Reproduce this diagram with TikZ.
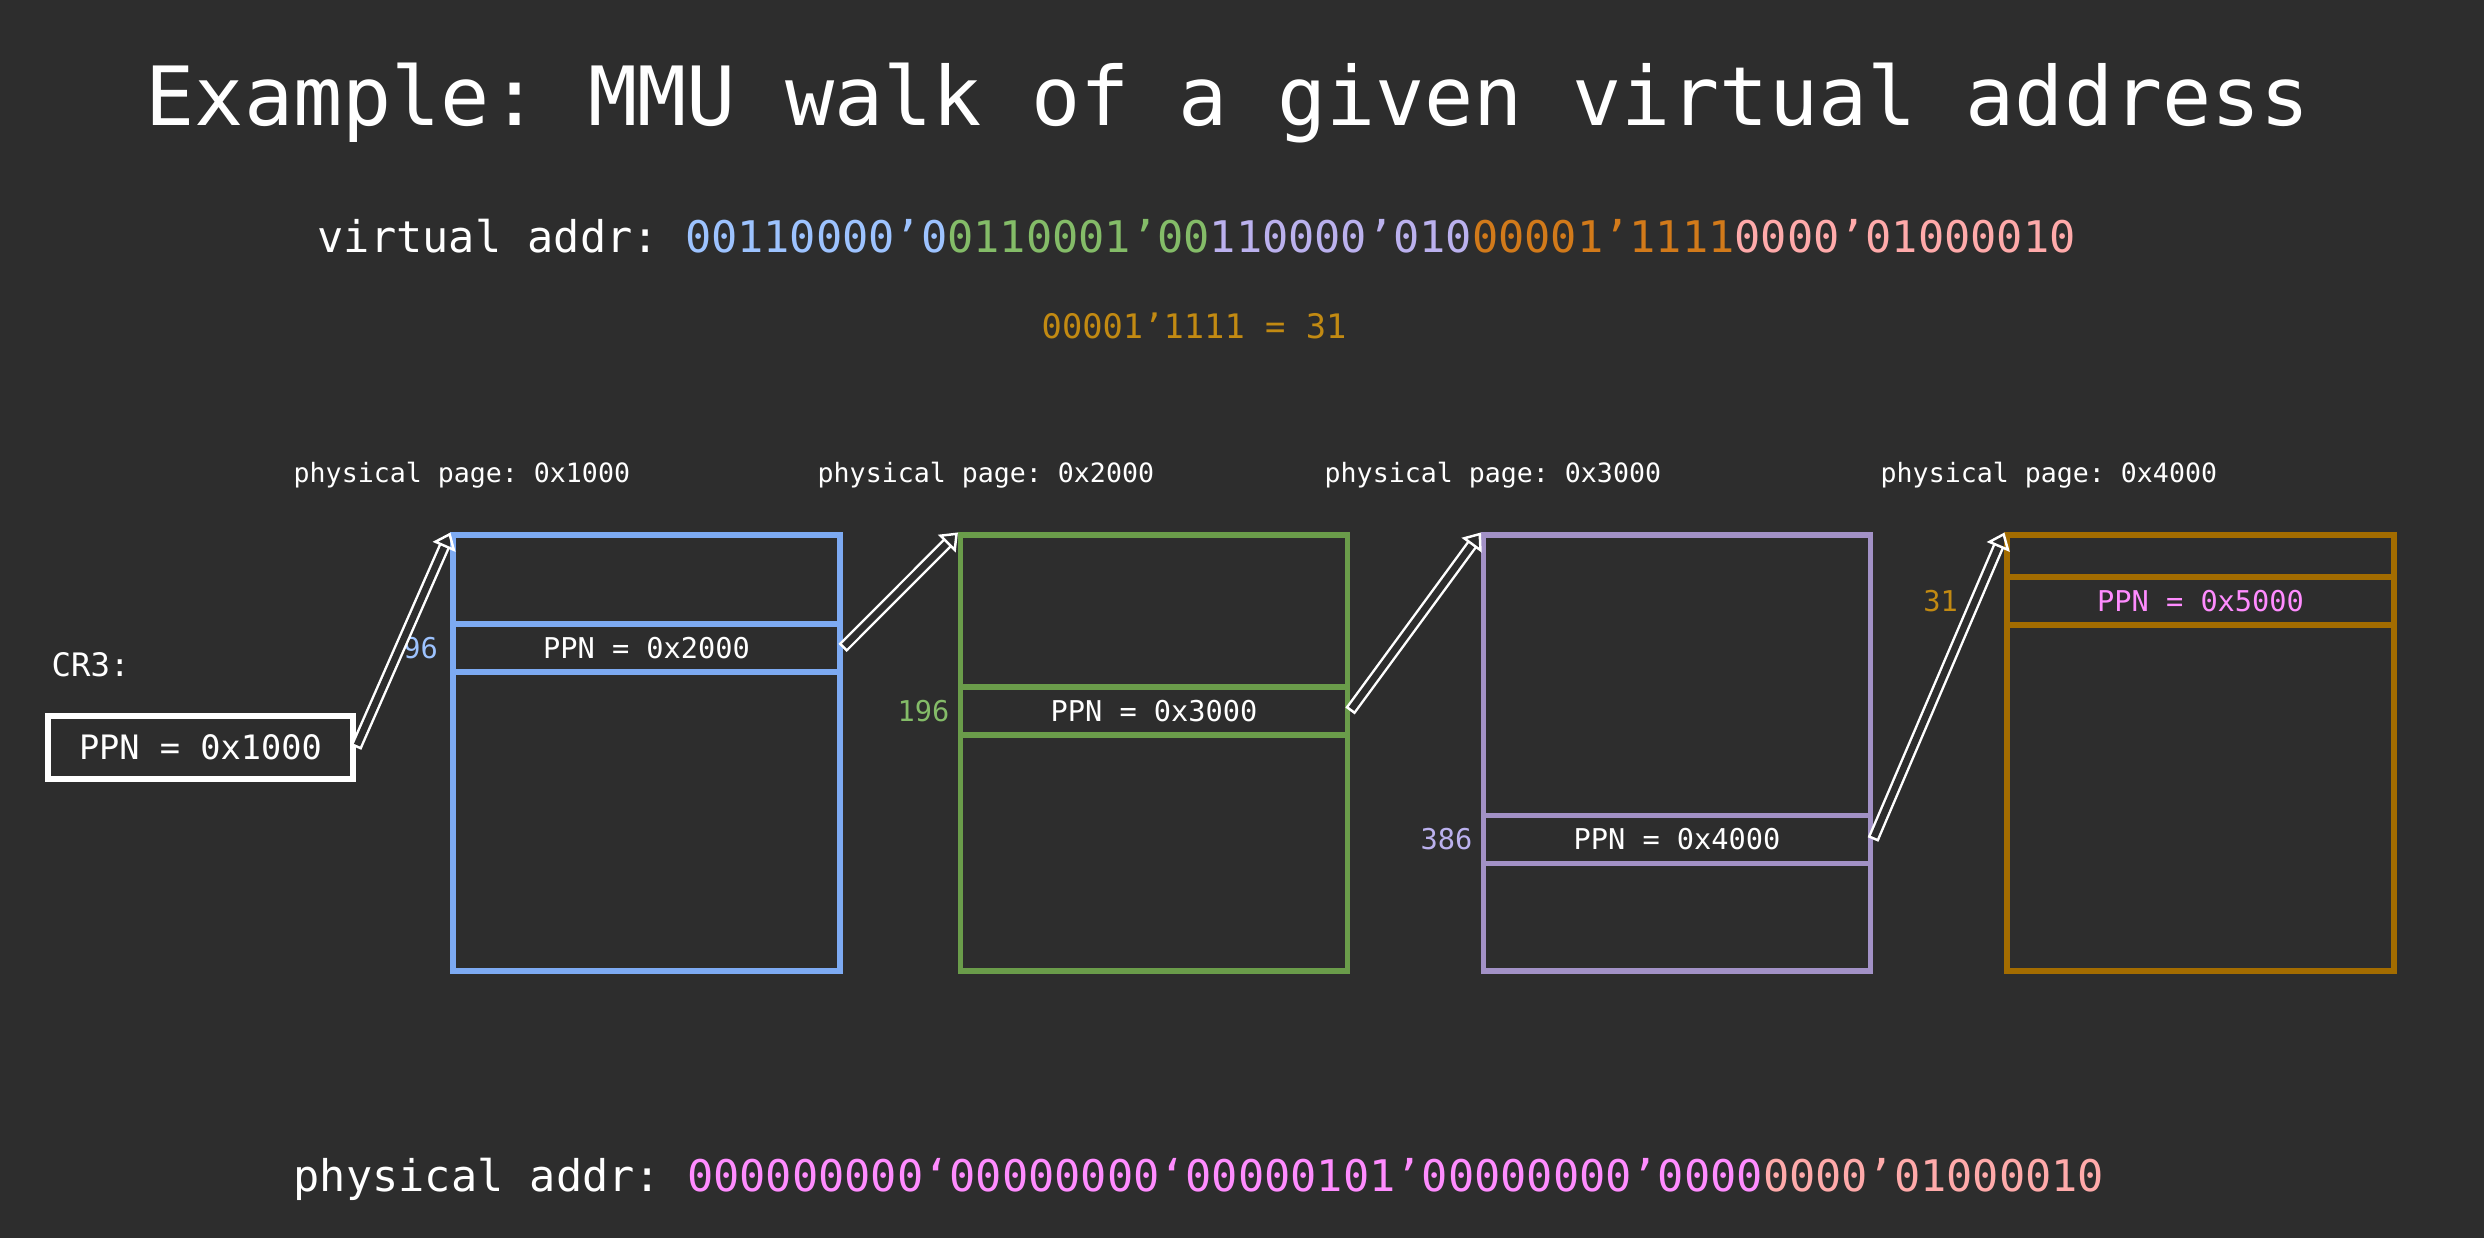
\documentclass[tikz,border=0pt]{standalone}
\usepackage{fontspec}
\usetikzlibrary{arrows.meta,positioning}
\newfontfamily\codefont{DejaVu Sans Mono}
\frenchspacing
\definecolor{bg}{HTML}{2D2D2D}
\definecolor{b1}{HTML}{7DAAF2}
\definecolor{g1}{HTML}{6A9C4A}
\definecolor{p1}{HTML}{A291C6}
\definecolor{o1}{HTML}{A36C00}
\definecolor{b2}{HTML}{9DC3FF}
\definecolor{g2}{HTML}{84BC68}
\definecolor{p2}{HTML}{BBB1EE}
\definecolor{o2}{HTML}{D27A1A}
\definecolor{y2}{HTML}{C28A12}
\definecolor{pk}{HTML}{FF8CFF}
\definecolor{sa}{HTML}{FFAAAA}
\newcommand\fsize[1]{\codefont\fontsize{#1}{#1}\selectfont}
\tikzstyle{ptable}=[draw,line width=1.45pt,minimum width=3.87cm,minimum height=4.36cm,inner sep=0pt]
\tikzstyle{pte}=[draw,line width=1.45pt,minimum width=3.87cm,minimum height=0.48cm,inner sep=0pt,text=white,font=\fsize{8.15pt}]
\tikzstyle{idx}=[inner sep=0pt,font=\fsize{8.15pt}]
\tikzstyle{pagelabel}=[anchor=base west,inner sep=0pt,text=white,font=\fsize{7.57pt}]
\tikzstyle{ptr}=[white,line width=0.7pt,double=bg,double distance=1.9pt,
  {Bar[width=3.3pt,line width=0.7pt]}-{Triangle[open,length=4.5pt,width=7pt,line width=0.7pt]}]

\begin{document}
\begin{tikzpicture}
  \fill[bg] (0,0) rectangle (24.84,12.38);
  \node[anchor=base,inner sep=0pt,text=white,font=\fsize{23.25pt}] (title) at (12.28,11.12)
    {Example: MMU walk of a given virtual address};
  \node[anchor=base west,inner sep=0pt,text=white,font=\fsize{12.4pt}] (vaddr) at (3.17,9.85)
    {virtual addr: \textcolor{b2}{00110000’0}\textcolor{g2}{0110001’00}\textcolor{p2}{110000’010}\textcolor{o2}{00001’1111}\textcolor{sa}{0000’01000010}};
  \node[anchor=base west,inner sep=0pt,text=y2,font=\fsize{9.6pt}] (calc) at (10.41,8.99) {00001’1111 = 31};

  % page tables
  \node[ptable,draw=b1] (t1) at (6.465,4.85) {};
  \node[ptable,draw=g1] (t2) at (11.54,4.85) {};
  \node[ptable,draw=p1] (t3) at (16.77,4.85) {};
  \node[ptable,draw=o1] (t4) at (22.005,4.85) {};
  \node[pte,draw=b1] (e1) at (6.465,5.90) {PPN = 0x2000};
  \node[pte,draw=g1] (e2) at (11.54,5.27) {PPN = 0x3000};
  \node[pte,draw=p1] (e3) at (16.77,3.985) {PPN = 0x4000};
  \node[pte,draw=o1,text=pk] (e4) at (22.005,6.37) {PPN = 0x5000};
  \node[idx,text=b2,left=0.12cm of e1.west] (i1) {96};
  \node[idx,text=g2,left=0.08cm of e2.west] (i2) {196};
  \node[idx,text=p2,left=0.08cm of e3.west] (i3) {386};
  \node[idx,text=y2,left=0.46cm of e4.west] (i4) {31};
  \node[pagelabel] (l1) at (2.93,7.55) {physical page: 0x1000};
  \node[pagelabel] (l2) at (8.17,7.55) {physical page: 0x2000};
  \node[pagelabel] (l3) at (13.24,7.55) {physical page: 0x3000};
  \node[pagelabel] (l4) at (18.80,7.55) {physical page: 0x4000};

  % CR3 register
  \node[anchor=base west,inner sep=0pt,text=white,font=\fsize{9.2pt}] (crlabel) at (0.51,5.61) {CR3:};
  \node[draw=white,line width=1.7pt,minimum width=3.05cm,minimum height=0.63cm,inner sep=0pt,
    text=white,font=\fsize{9.57pt}] (cr3) at (2.005,4.905) {PPN = 0x1000};

  % walk
  \draw[ptr] (cr3.east) -- (t1.north west);
  \draw[ptr] (e1.east) -- (t2.north west);
  \draw[ptr] (e2.east) -- (t3.north west);
  \draw[ptr] (e3.east) -- (t4.north west);

  \node[anchor=base west,inner sep=0pt,text=white,font=\fsize{12.4pt}] (paddr) at (2.93,0.46)
    {physical addr: \textcolor{pk}{000000000‘00000000‘00000101’00000000’0000}\textcolor{sa}{0000’01000010}};
\end{tikzpicture}
\end{document}
